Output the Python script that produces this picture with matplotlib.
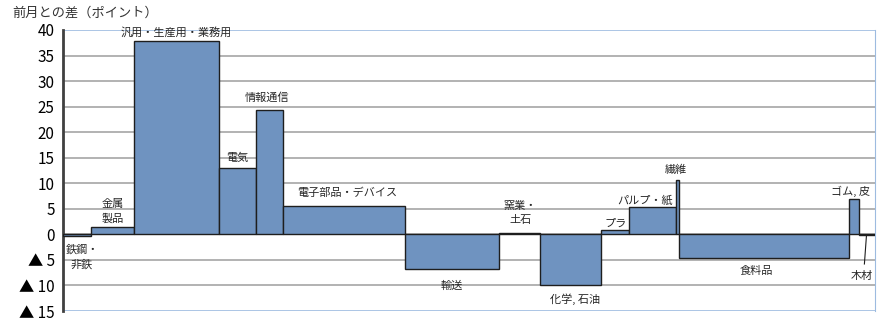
"""前月との差 variable-width bar chart"""
import matplotlib
matplotlib.use('Agg')
import matplotlib.pyplot as plt
import numpy as np

plt.rcParams['font.family'] = ['Noto Sans CJK JP', 'DejaVu Sans']

# categories, widths (weights) and month-on-month differences
categories = ['鉄鋼・\n非鉄', '金属\n製品', '汎用・生産用・業務用', '電気', '情報通信',
              '電子部品・デバイス', '輸送', '窯業・\n土石', '化学, 石油', 'プラ',
              'パルプ・紙', '繊維', '食料品', 'ゴム, 皮', '木材']
weights = [28, 43, 85, 37, 27, 122, 94, 41, 61, 28, 47, 2.6, 170, 10, 16]
values = [-0.3, 1.4, 37.9, 12.9, 24.4, 5.6, -6.8, 0.2, -10.0, 0.9, 5.4, 10.6, -4.6, 6.9, -0.2]

# label anchor positions (x, y in data units)
label_pos = [(19, -4.4), (50, 4.5), (113, 39.6), (174, 15.0), (204, 26.7),
             (284, 8.1), (389, -10.1), (457, 4.2), (512, -12.6), (552, 2.0),
             (582, 6.7), (613, 12.6), (693, -7.1), (787, 8.5), (798, -8.1)]

weights = np.array(weights, dtype=float)
lefts = np.concatenate([[0], np.cumsum(weights)[:-1]])

fig = plt.figure(figsize=(8.9, 3.24), dpi=100)
ax = fig.add_axes([63 / 890, 13 / 324, 812 / 890, 281 / 324])

ax.bar(lefts, values, width=weights, align='edge', color='#6f93c0',
       edgecolor='#1e1e1e', linewidth=1.0, zorder=3)

ax.set_xlim(0, weights.sum())
ax.set_ylim(-15, 40)
yticks = np.arange(-15, 41, 5)
ax.set_yticks(yticks)
ax.set_yticklabels([f'▲ {-t}' if t < 0 else str(t) for t in yticks], fontsize=11)
ax.tick_params(axis='y', length=0, pad=6)
ax.set_xticks([])

for t in yticks[1:-1]:
    ax.axhline(t, color='#a6a6a6', linewidth=1.2, zorder=1)
for t in (40, -15):
    ax.axhline(t, color='#9dbbe0', linewidth=1.2, zorder=1)

for s in ('top', 'bottom'):
    ax.spines[s].set_visible(False)
ax.spines['right'].set_color('#9dbbe0')
ax.spines['left'].set_color('#404040')
ax.spines['left'].set_linewidth(2)

for name, (lx, ly) in zip(categories, label_pos):
    ax.text(lx, ly, name, ha='center', va='center', fontsize=8,
            linespacing=1.5, color='#262626', zorder=4)

# leader line for 木材
ax.plot([803, 801], [-0.4, -5.8], color='#1e1e1e', linewidth=0.8, zorder=4)

fig.text(12 / 890, 1 - 13 / 324, '前月との差（ポイント）', fontsize=9.5,
         ha='left', va='center', color='#333333')

fig.savefig('out.png', dpi=100)
